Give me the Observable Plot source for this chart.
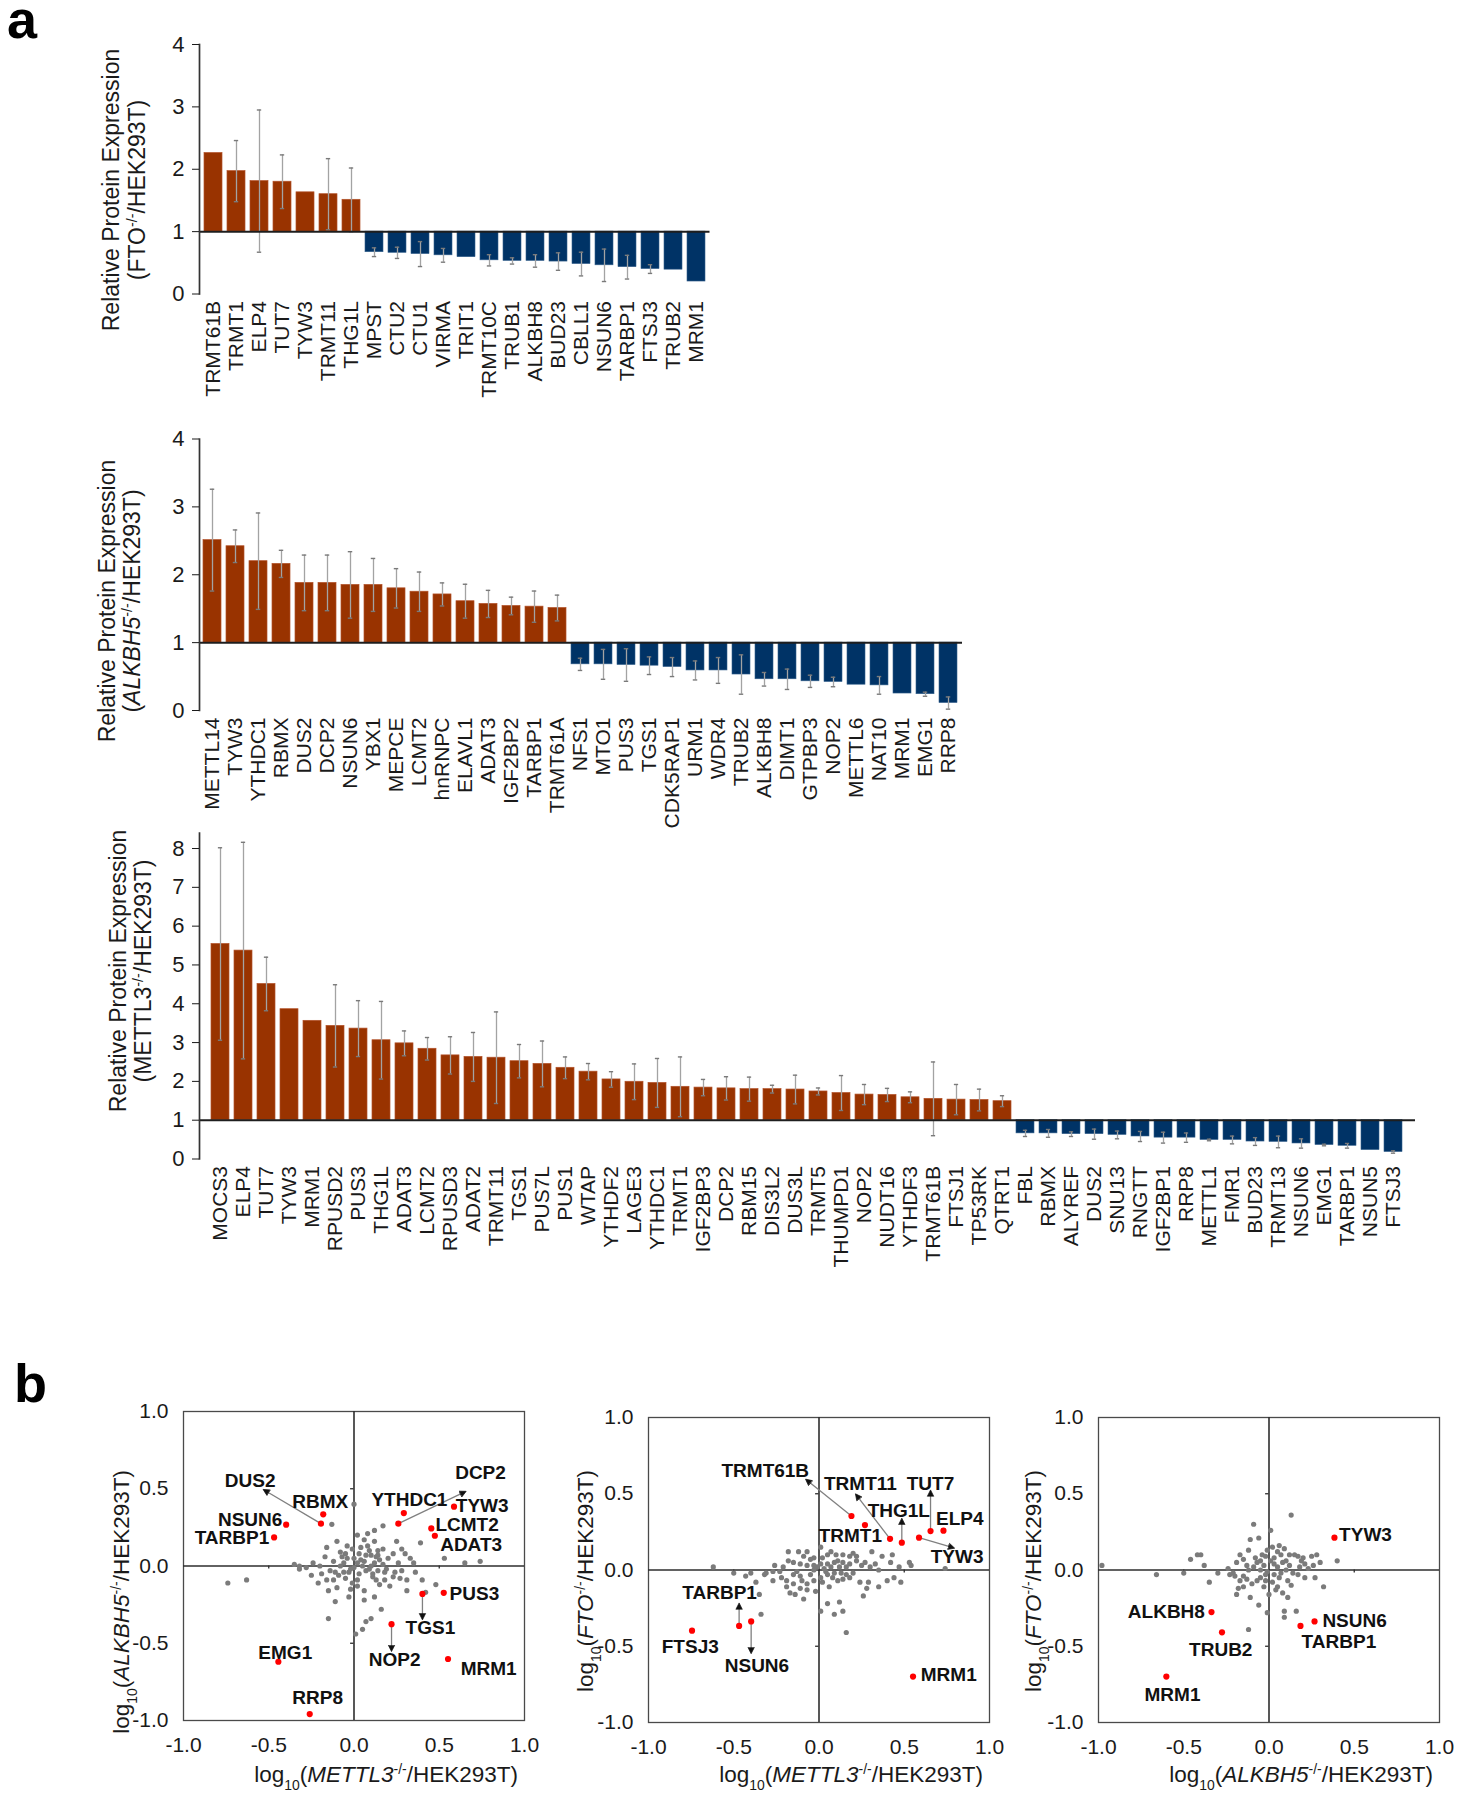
<!DOCTYPE html>
<html><head><meta charset="utf-8">
<script src="https://cdn.jsdelivr.net/npm/d3@7"></script>
<script src="https://cdn.jsdelivr.net/npm/@observablehq/plot@0.6"></script>
<style>
body{margin:0;background:#fff;}
#page{position:relative;width:1459px;height:1800px;overflow:hidden;background:#fff;}
.panel{position:absolute;font-family:'Liberation Sans',Arial,sans-serif;font-weight:bold;font-size:54px;line-height:38px;color:#000;}
</style></head><body><div id="page"></div>
<script>
// ---------------- DATA ----------------
const fto_genes = ["TRMT61B","TRMT1","ELP4","TUT7","TYW3","TRMT11","THG1L","MPST","CTU2","CTU1","VIRMA","TRIT1","TRMT10C","TRUB1","ALKBH8","BUD23","CBLL1","NSUN6","TARBP1","FTSJ3","TRUB2","MRM1"];
const fto_values = [2.26,1.97,1.81,1.80,1.63,1.60,1.51,0.67,0.66,0.64,0.62,0.59,0.54,0.53,0.53,0.52,0.48,0.46,0.43,0.40,0.39,0.20];
const fto_errors = [0,0.49,1.14,0.43,0,0.57,0.51,0.07,0.09,0.2,0.11,0,0.09,0.05,0.1,0.14,0.19,0.26,0.19,0.07,0,0];

const alkbh5_genes = ["METTL14","TYW3","YTHDC1","RBMX","DUS2","DCP2","NSUN6","YBX1","MEPCE","LCMT2","hnRNPC","ELAVL1","ADAT3","IGF2BP2","TARBP1","TRMT61A","NFS1","MTO1","PUS3","TGS1","CDK5RAP1","URM1","WDR4","TRUB2","ALKBH8","DIMT1","GTPBP3","NOP2","METTL6","NAT10","MRM1","EMG1","RRP8"];
const alkbh5_values = [2.51,2.42,2.20,2.16,1.88,1.88,1.85,1.85,1.80,1.75,1.71,1.61,1.57,1.54,1.53,1.51,0.68,0.68,0.67,0.66,0.64,0.59,0.59,0.53,0.46,0.46,0.43,0.42,0.38,0.37,0.25,0.24,0.11];
const alkbh5_errors = [0.75,0.24,0.71,0.2,0.41,0.41,0.49,0.39,0.29,0.29,0.17,0.25,0.2,0.13,0.23,0.19,0.09,0.22,0.24,0.13,0.14,0.14,0.19,0.29,0.1,0.15,0.09,0.07,0,0.13,0,0.03,0.09];

const mettl3_genes = ["MOCS3","ELP4","TUT7","TYW3","MRM1","RPUSD2","PUS3","THG1L","ADAT3","LCMT2","RPUSD3","ADAT2","TRMT11","TGS1","PUS7L","PUS1","WTAP","YTHDF2","LAGE3","YTHDC1","TRMT1","IGF2BP3","DCP2","RBM15","DIS3L2","DUS3L","TRMT5","THUMPD1","NOP2","NUDT16","YTHDF3","TRMT61B","FTSJ1","TP53RK","QTRT1","FBL","RBMX","ALYREF","DUS2","SNU13","RNGTT","IGF2BP1","RRP8","METTL1","FMR1","BUD23","TRMT13","NSUN6","EMG1","TARBP1","NSUN5","FTSJ3"];
const mettl3_values = [5.54,5.37,4.51,3.86,3.56,3.43,3.36,3.06,2.98,2.84,2.67,2.63,2.61,2.52,2.45,2.35,2.25,2.05,1.99,1.96,1.86,1.84,1.82,1.80,1.80,1.79,1.74,1.70,1.66,1.65,1.59,1.55,1.53,1.52,1.49,0.66,0.66,0.64,0.64,0.62,0.58,0.55,0.55,0.49,0.49,0.45,0.44,0.40,0.36,0.34,0.23,0.18];
const mettl3_errors = [2.48,2.79,0.69,0,0,1.06,0.72,1.0,0.32,0.29,0.48,0.63,1.18,0.43,0.59,0.28,0.21,0.2,0.46,0.63,0.77,0.21,0.3,0.31,0.1,0.37,0.09,0.45,0.26,0.17,0.14,0.95,0.39,0.28,0.14,0.08,0.1,0.06,0.13,0.1,0.13,0.14,0.12,0.02,0.1,0.1,0.15,0.12,0.02,0.06,0,0.03];

const bar_ticks_4 = [0,1,2,3,4];
const bar_ticks_8 = [0,1,2,3,4,5,6,7,8];
const scatter_ticks = [-1,-0.5,0,0.5,1];

// scatter 1: log10(METTL3) vs log10(ALKBH5), other proteins (grey)
const s1_gray = [[0.00,0.40],[-0.13,0.27],[0.17,0.26],[0.12,0.23],[0.08,0.21],[-0.10,0.16],[0.02,0.20],[0.06,0.17],[0.12,0.16],[0.25,0.16],[0.39,0.15],[-0.16,0.12],[-0.04,0.13],[-0.01,0.11],[0.08,0.13],[0.09,0.10],[0.14,0.10],[0.17,0.11],[0.28,0.11],[-0.08,0.09],[-0.05,0.08],[0.03,0.08],[0.07,0.07],[0.10,0.07],[0.14,0.07],[0.23,0.08],[0.30,0.08],[0.13,0.06],[-0.17,0.06],[-0.12,0.03],[-0.04,0.05],[0.02,0.02],[0.06,0.03],[0.12,0.02],[0.53,0.05],[0.35,0.02],[0.65,0.02],[0.74,0.03],[-0.35,0.01],[-0.32,0.00],[-0.28,-0.01],[-0.24,0.02],[-0.20,0.00],[-0.08,0.00],[0.00,-0.01],[0.05,0.00],[0.10,0.00],[0.17,0.01],[0.19,-0.02],[-0.32,-0.02],[-0.14,-0.03],[-0.11,-0.04],[-0.03,-0.04],[0.03,-0.05],[0.07,-0.03],[0.14,-0.03],[0.18,-0.04],[0.24,-0.04],[-0.19,-0.05],[-0.63,-0.09],[-0.74,-0.11],[-0.21,-0.11],[-0.16,-0.09],[-0.12,-0.09],[-0.05,-0.08],[-0.01,-0.11],[0.02,-0.09],[0.11,-0.07],[0.23,-0.07],[0.27,-0.08],[0.31,-0.09],[0.40,-0.09],[0.48,-0.12],[-0.15,-0.16],[-0.10,-0.14],[-0.02,-0.15],[0.06,-0.16],[0.15,-0.12],[0.21,-0.13],[0.31,-0.16],[0.42,-0.17],[-0.11,-0.23],[-0.03,-0.20],[0.06,-0.22],[0.12,-0.20],[0.16,-0.28],[-0.15,-0.34],[0.10,-0.34],[0.07,-0.36],[0.05,-0.41],[0.01,-0.44],[0.04,0.12],[-0.06,0.02],[0.09,-0.02],[0.20,0.05],[-0.09,-0.06],[0.13,-0.09],[0.26,0.02],[0.36,-0.04],[0.00,0.05],[-0.02,-0.02],[0.04,0.04],[0.15,0.04],[-0.07,0.06],[0.11,-0.05],[0.28,-0.03],[0.33,0.05],[-0.25,-0.06],[0.18,-0.09],[0.02,-0.13],[-0.06,-0.04]];
const s1_red = ["DUS2","RBMX","NSUN6","TARBP1","YTHDC1","DCP2","TYW3","LCMT2","ADAT3","PUS3","TGS1","NOP2","MRM1","EMG1","RRP8"];
const s1_labels = [["DUS2",-0.609,0.552],["RBMX",-0.198,0.412],["NSUN6",-0.609,0.297],["TARBP1",-0.716,0.181],["YTHDC1",0.325,0.427],["DCP2",0.742,0.60],["TYW3",0.752,0.392],["LCMT2",0.663,0.266],["ADAT3",0.687,0.138],["PUS3",0.706,-0.181],["TGS1",0.448,-0.40],["NOP2",0.239,-0.608],["MRM1",0.79,-0.666],["EMG1",-0.403,-0.565],["RRP8",-0.213,-0.853]];
const s1_arrows = [["DUS2",-0.52,0.487],["DCP2",0.644,0.476],["TGS1",null,-0.332],["NOP2",null,-0.537]];

// scatter 2: log10(METTL3) vs log10(FTO)
const s2_gray = [[-0.62,0.02],[-0.50,-0.02],[-0.43,-0.04],[-0.35,-0.16],[-0.34,-0.29],[-0.31,-0.02],[-0.26,0.03],[-0.27,-0.01],[-0.23,-0.01],[-0.18,0.12],[-0.12,0.12],[-0.07,0.12],[-0.03,0.08],[0.01,0.15],[0.05,0.10],[0.10,0.10],[0.14,0.10],[0.18,0.09],[0.22,0.09],[0.31,0.12],[0.37,0.09],[0.43,0.10],[0.42,0.05],[0.53,0.05],[0.54,0.03],[0.74,0.01],[0.30,0.02],[0.25,0.03],[0.18,0.04],[0.14,0.05],[0.09,0.05],[0.05,0.04],[0.01,0.04],[-0.03,0.03],[-0.07,0.03],[-0.11,0.04],[-0.15,0.05],[-0.18,0.06],[-0.22,-0.05],[-0.19,-0.07],[-0.15,-0.09],[-0.11,-0.12],[-0.07,-0.09],[-0.03,-0.07],[0.01,-0.05],[0.05,-0.03],[0.09,-0.02],[0.13,-0.02],[0.16,-0.03],[0.20,-0.02],[-0.19,-0.11],[-0.17,-0.15],[-0.14,-0.16],[-0.09,-0.19],[-0.02,-0.14],[0.02,-0.08],[0.11,-0.07],[0.14,-0.06],[0.24,-0.08],[0.29,-0.08],[0.35,-0.11],[0.40,-0.07],[0.48,-0.08],[0.44,-0.05],[0.01,-0.27],[0.05,-0.22],[0.09,-0.29],[0.12,-0.21],[0.14,-0.27],[0.16,-0.41],[0.26,-0.17],[-0.01,0.02],[0.03,0.01],[-0.05,-0.03],[-0.11,-0.04],[-0.15,-0.03],[-0.27,-0.07],[-0.10,-0.07],[-0.03,0.00],[0.07,0.02],[0.12,0.02],[0.16,0.02],[-0.37,-0.08],[-0.32,-0.03],[0.07,0.12],[0.20,0.11],[0.27,0.05],[0.33,0.04],[-0.05,0.07],[-0.09,0.09],[0.02,0.08],[0.11,0.06],[0.22,0.06],[-0.21,0.02],[-0.13,-0.01],[0.04,-0.01],[0.08,-0.05],[0.18,-0.05],[-0.07,-0.13],[0.06,-0.11],[0.35,0.00],[0.47,0.02],[-0.40,-0.02],[0.28,-0.12]];
const s2_red = ["TRMT61B","TRMT1","TRMT11","THG1L","TYW3","TUT7","ELP4","MRM1","FTSJ3","TARBP1","NSUN6"];
const s2_labels = [["TRMT61B",-0.315,0.65],["TRMT11",0.243,0.563],["TUT7",0.654,0.563],["THG1L",0.468,0.388],["ELP4",0.826,0.334],["TRMT1",0.184,0.225],["TYW3",0.81,0.083],["TARBP1",-0.583,-0.153],["FTSJ3",-0.755,-0.506],["NSUN6",-0.364,-0.626],["MRM1",0.761,-0.691]];
const s2_arrows = [["TRMT61B",-0.067,0.585],["TRMT11",0.223,0.486],["TUT7",null,0.508],["THG1L",null,0.323],["TYW3",0.781,0.148],["TARBP1",null,-0.233],["NSUN6",null,-0.532]];

// scatter 3: log10(ALKBH5) vs log10(FTO)
const s3_gray = [[-0.98,0.03],[-0.66,-0.03],[-0.50,-0.02],[-0.46,0.07],[-0.42,0.10],[-0.40,0.10],[-0.38,0.03],[-0.35,-0.08],[-0.23,-0.03],[-0.21,-0.02],[-0.19,0.05],[-0.18,-0.12],[-0.17,0.10],[-0.15,0.07],[-0.12,0.13],[-0.11,0.20],[-0.09,0.30],[-0.06,0.21],[-0.13,0.03],[-0.11,-0.18],[-0.06,-0.23],[-0.12,-0.39],[-0.20,-0.04],[-0.17,-0.07],[-0.15,-0.04],[-0.12,0.00],[-0.09,0.02],[-0.07,0.05],[-0.05,0.06],[-0.03,0.03],[-0.01,0.13],[0.01,0.26],[0.02,0.15],[0.03,0.08],[0.05,0.12],[0.07,0.10],[0.10,0.06],[0.12,0.10],[0.15,0.10],[0.17,0.09],[0.19,0.06],[0.21,0.04],[0.25,0.09],[0.26,0.03],[0.40,0.06],[0.13,0.36],[0.05,0.02],[0.07,-0.02],[0.10,0.00],[0.14,-0.02],[0.17,-0.03],[0.21,-0.05],[0.23,0.01],[0.27,-0.05],[0.32,-0.11],[-0.05,-0.05],[-0.02,-0.07],[0.02,-0.08],[0.05,-0.11],[0.08,-0.15],[0.11,-0.18],[0.09,-0.27],[0.09,-0.31],[0.16,-0.27],[-0.01,-0.28],[-0.02,-0.03],[0.03,-0.03],[-0.07,-0.07],[-0.10,-0.09],[-0.15,-0.11],[-0.19,-0.16],[-0.03,-0.11],[0.00,-0.16],[0.06,0.16],[-0.02,0.09],[0.11,-0.07],[0.28,0.10],[-0.04,0.10],[0.08,0.05],[0.12,0.03],[-0.08,0.08],[0.03,0.04],[-0.01,-0.01],[0.06,-0.05],[-0.13,-0.06],[0.18,0.02],[0.13,-0.10],[-0.24,0.01],[0.30,0.05],[-0.30,-0.02],[0.01,0.06],[0.09,0.14],[-0.05,0.00],[0.04,-0.13],[0.20,0.08]];
const s3_red = ["TYW3","ALKBH8","TRUB2","MRM1","NSUN6","TARBP1"];
const s3_labels = [["TYW3",0.566,0.231],["ALKBH8",-0.602,-0.273],["TRUB2",-0.283,-0.523],["MRM1",-0.566,-0.822],["NSUN6",0.502,-0.331],["TARBP1",0.41,-0.473]];
const s3_arrows = [];

// ---------------- STYLE ----------------
const FONT = "'Liberation Sans', Arial, Helvetica, sans-serif";
const ORANGE = "#993300", BLUE = "#003366";
const page = document.getElementById("page");

function place(svg, left, top) {
  svg.style.position = "absolute";
  svg.style.left = left + "px";
  svg.style.top = top + "px";
  svg.style.overflow = "visible";
  svg.style.background = "transparent";
  svg.style.maxWidth = "none";
  page.appendChild(svg);
}

function rich(sel, parts) {
  parts.forEach(p => {
    const t = sel.append("tspan").text(p.t);
    if (p.i) t.attr("font-style", "italic");
    if (p.sup) t.attr("baseline-shift", "super").attr("font-size", "62%");
    if (p.sub) t.attr("baseline-shift", "sub").attr("font-size", "62%");
  });
}

function rotText(svg, x, y, parts, size, anchor) {
  const t = d3.select(svg).append("text")
    .attr("transform", `translate(${x},${y}) rotate(-90)`)
    .attr("text-anchor", anchor).attr("dy", "0.35em")
    .attr("font-family", FONT).attr("font-size", size).attr("fill", "#1a1a1a");
  rich(t, parts);
}

function barChart(c) {
  const data = c.genes.map((g, i) => ({gene: g, value: c.values[i], err: c.errors[i]}));
  const up = data.filter(d => d.value >= 1), down = data.filter(d => d.value < 1);
  const errs = data.filter(d => d.err > 0);
  const pi = 0.2, po = 0.05;
  const step = (c.width - c.ml - c.mr) / (c.genes.length - pi + 2 * po);
  const bw = step * (1 - pi);
  const capInset = (bw - 5) / 2;
  const svg = Plot.plot({
    width: c.width, height: c.height,
    marginTop: c.mt, marginBottom: c.mb, marginLeft: c.ml, marginRight: c.mr,
    style: {fontFamily: FONT, fontSize: "20px", color: "#1a1a1a", background: "transparent", overflow: "visible"},
    x: {domain: c.genes, paddingInner: pi, paddingOuter: po, label: null},
    y: {domain: [0, c.yMax], label: null},
    marks: [
      Plot.barY(up, {x: "gene", y1: 1, y2: "value", fill: ORANGE, stroke: "#b3522a", strokeWidth: 0.7}),
      Plot.barY(down, {x: "gene", y1: 1, y2: "value", fill: BLUE, stroke: "#35618d", strokeWidth: 0.6}),
      Plot.ruleX(errs, {x: "gene", y1: d => d.value - d.err, y2: d => d.value + d.err, stroke: "#a3a3a3", strokeWidth: 1.3}),
      Plot.tickY(errs, {x: "gene", y: d => d.value + d.err, stroke: "#7a7a7a", strokeWidth: 1.4, insetLeft: capInset, insetRight: capInset}),
      Plot.tickY(errs, {x: "gene", y: d => d.value - d.err, stroke: "#7a7a7a", strokeWidth: 1.4, insetLeft: capInset, insetRight: capInset}),
      Plot.ruleY([1], {stroke: "#1e1e1e", strokeWidth: 2}),
      Plot.frame({anchor: "left", stroke: "#333", strokeWidth: 1.7}),
      Plot.axisY({ticks: c.ticks, tickSize: 7, tickPadding: 8, fontSize: 22, tickFormat: d => String(d), label: null}),
      Plot.axisX({tickSize: 0, tickPadding: 7, tickRotate: -90, fontSize: 21, label: null})
    ]
  });
  place(svg, c.left, c.top);
  rotText(svg, c.t1x, c.ty, [{t: "Relative Protein Expression"}], 23, "middle");
  rotText(svg, c.t2x, c.ty, c.title2, 23, "middle");
}

barChart({genes: fto_genes, values: fto_values, errors: fto_errors, yMax: 4, ticks: bar_ticks_4,
  left: 0, top: 0, width: 730, height: 400, mt: 44, mb: 106.5, ml: 199, mr: 20.5,
  t1x: 111, t2x: 137, ty: 190,
  title2: [{t: "(FTO"}, {t: "-/-", sup: true}, {t: "/HEK293T)"}]});

barChart({genes: alkbh5_genes, values: alkbh5_values, errors: alkbh5_errors, yMax: 4, ticks: bar_ticks_4,
  left: 0, top: 400, width: 1000, height: 420, mt: 38.5, mb: 110, ml: 199, mr: 38,
  t1x: 107, t2x: 132, ty: 201,
  title2: [{t: "("}, {t: "ALKBH5", i: true}, {t: "-/-", sup: true}, {t: "/HEK293T)"}]});

barChart({genes: mettl3_genes, values: mettl3_values, errors: mettl3_errors, yMax: 8.4, ticks: bar_ticks_8,
  left: 0, top: 800, width: 1459, height: 480, mt: 32.5, mb: 121.5, ml: 199, mr: 44,
  t1x: 118, t2x: 143, ty: 171,
  title2: [{t: "(METTL3"}, {t: "-/-", sup: true}, {t: "/HEK293T)"}]});

// ---------------- SCATTERS ----------------
const mettl3Map = new Map(mettl3_genes.map((g, i) => [g, mettl3_values[i]]));
const alkbh5Map = new Map(alkbh5_genes.map((g, i) => [g, alkbh5_values[i]]));
const ftoMap = new Map(fto_genes.map((g, i) => [g, fto_values[i]]));

function scatter(c) {
  const red = c.red.map(g => ({gene: g, x: Math.log10(c.xMap.get(g)), y: Math.log10(c.yMap.get(g))}));
  const by = new Map(red.map(d => [d.gene, d]));
  const labs = c.labels.map(([g, x, y]) => ({gene: g, x, y}));
  const arr = c.arrows.map(([g, ax, ay]) => { const p = by.get(g); return {x1: p.x, y1: p.y, x2: ax == null ? p.x : ax, y2: ay}; });
  const gray = c.gray.map(([x, y]) => ({x, y}));
  const svg = Plot.plot({
    width: c.width, height: c.height,
    marginTop: c.mt, marginBottom: c.mb, marginLeft: c.ml, marginRight: c.mr,
    style: {fontFamily: FONT, fontSize: "20px", color: "#1a1a1a", background: "transparent", overflow: "visible"},
    x: {domain: [-1, 1], label: null},
    y: {domain: [-1, 1], label: null},
    marks: [
      Plot.frame({stroke: "#4a4a4a", strokeWidth: 1.3}),
      Plot.ruleX([0], {stroke: "#2e2e2e", strokeWidth: 1.6}),
      Plot.ruleY([0], {stroke: "#2e2e2e", strokeWidth: 1.6}),
      Plot.ruleX([-0.5, 0.5], {y1: 0, y2: -0.02, stroke: "#2e2e2e", strokeWidth: 1.3}),
      Plot.ruleY([-0.5, 0.5], {x1: -0.02, x2: 0, stroke: "#2e2e2e", strokeWidth: 1.3}),
      Plot.dot(gray, {x: "x", y: "y", r: 2.6, fill: "#7b7b7b"}),
      Plot.link(arr, {x1: "x1", y1: "y1", x2: "x2", y2: "y2", stroke: "#808080", strokeWidth: 1.3, markerEnd: "arrow"}),
      Plot.dot(red, {x: "x", y: "y", r: 3.1, fill: "#ff0000"}),
      Plot.text(labs, {x: "x", y: "y", text: "gene", fontWeight: "bold", fontSize: 19, fill: "#111"}),
      Plot.axisX({ticks: scatter_ticks, tickFormat: d => d.toFixed(1), tickSize: 0, tickPadding: 17, fontSize: 21, label: null}),
      Plot.axisY({ticks: scatter_ticks, tickFormat: d => d.toFixed(1), tickSize: 0, tickPadding: 15, fontSize: 21, label: null})
    ]
  });
  // filled black arrowheads
  d3.select(svg).selectAll("marker").attr("fill", "#111").attr("stroke", "#111").attr("stroke-width", 0.8)
    .selectAll("path").attr("d", "M-4,-3.5L3,0L-4,3.5Z");
  place(svg, c.left, c.top);
  d3.select(svg).append("text")
    .attr("x", c.xtX).attr("y", c.xtY).attr("text-anchor", "end")
    .attr("font-family", FONT).attr("font-size", 22.5).attr("fill", "#1a1a1a")
    .call(s => rich(s, c.xParts));
  rotText(svg, c.ytX, c.ytY, c.yParts, 22.5, "end");
}

const logParts = (gene) => [{t: "log"}, {t: "10", sub: true}, {t: "("}, {t: gene, i: true}, {t: "-/-", sup: true}, {t: "/HEK293T)"}];

scatter({left: 90, top: 1380, width: 450, height: 420, ml: 93, mr: 16, mt: 31, mb: 80,
  gray: s1_gray, red: s1_red, labels: s1_labels, arrows: s1_arrows, xMap: mettl3Map, yMap: alkbh5Map,
  xParts: logParts("METTL3"), yParts: logParts("ALKBH5"), xtX: 428, xtY: 402, ytX: 31, ytY: 90});

scatter({left: 555, top: 1380, width: 450, height: 420, ml: 93, mr: 16, mt: 37, mb: 78,
  gray: s2_gray, red: s2_red, labels: s2_labels, arrows: s2_arrows, xMap: mettl3Map, yMap: ftoMap,
  xParts: logParts("METTL3"), yParts: logParts("FTO"), xtX: 428, xtY: 402, ytX: 30, ytY: 90});

scatter({left: 1005, top: 1380, width: 454, height: 420, ml: 93, mr: 20, mt: 37, mb: 78,
  gray: s3_gray, red: s3_red, labels: s3_labels, arrows: s3_arrows, xMap: alkbh5Map, yMap: ftoMap,
  xParts: logParts("ALKBH5"), yParts: logParts("FTO"), xtX: 428, xtY: 402, ytX: 28, ytY: 90});

// ---------------- PANEL LETTERS ----------------
const pa = document.createElement("div");
pa.className = "panel"; pa.textContent = "a";
pa.style.left = "7px"; pa.style.top = "0px";
page.appendChild(pa);
const pb = document.createElement("div");
pb.className = "panel"; pb.textContent = "b";
pb.style.left = "14px"; pb.style.top = "1364px";
page.appendChild(pb);
</script></body></html>
